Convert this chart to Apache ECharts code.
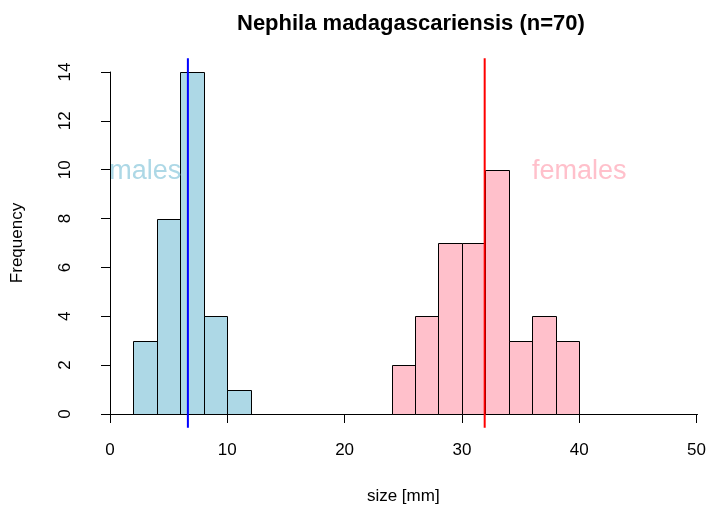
<!DOCTYPE html>
<html>
<head>
    <meta charset="UTF-8">
    <title>Nephila madagascariensis</title>
    <script src="https://cdn.jsdelivr.net/npm/echarts/dist/echarts.min.js"></script>
    <style>
        body { margin: 0; background: #fff; }
        #main { width: 709px; height: 510px; }
    </style>
</head>
<body>
    <div id="main"></div>
    <script>
        // bin edges (2 mm wide) and counts per bin
        var breaks = [0, 2, 4, 6, 8, 10, 12, 14, 16, 18, 20, 22, 24, 26, 28, 30, 32, 34, 36, 38, 40, 42, 44, 46, 48, 50];
        var males = [0, 3, 8, 14, 4, 1, 0, 0, 0, 0, 0, 0, 0, 0, 0, 0, 0, 0, 0, 0, 0, 0, 0, 0, 0];
        var females = [0, 0, 0, 0, 0, 0, 0, 0, 0, 0, 0, 0, 2, 4, 7, 7, 10, 3, 4, 3, 0, 0, 0, 0, 0];
        var means = [6.64, 31.94];          // male, female mean size
        var groupNames = ['males', 'females'];
        var labelX = [3, 40];
        var labelY = [10, 10];
        var xTicks = [0, 10, 20, 30, 40, 50];
        var yTicks = [0, 2, 4, 6, 8, 10, 12, 14];

        var fills = ['#ADD8E6', '#FFC0CB'];
        var lineCols = ['#0000FF', '#FF0000'];
        var font = '"Liberation Sans", Arial, sans-serif';

        function binData(counts) {
            return counts.map(function (c, i) { return [breaks[i], breaks[i + 1], c]; });
        }

        function histSeries(counts, fill) {
            return {
                type: 'custom',
                silent: true,
                data: binData(counts),
                encode: { x: [0, 1], y: 2 },
                renderItem: function (params, api) {
                    var p0 = api.coord([api.value(0), 0]);
                    var p1 = api.coord([api.value(1), api.value(2)]);
                    var x0 = Math.round(p0[0]) + 0.5, x1 = Math.round(p1[0]) + 0.5;
                    var yb = Math.round(p0[1]) + 0.5, yt = Math.round(p1[1]) + 0.5;
                    return {
                        type: 'rect',
                        shape: { x: x0, y: yt, width: x1 - x0, height: yb - yt },
                        style: { fill: fill, stroke: '#000', lineWidth: 1 }
                    };
                }
            };
        }

        // vertical mean lines span the whole plot region (R's 4% extension)
        var yLo = -0.04 * yTicks[yTicks.length - 1];
        var yHi = yTicks[yTicks.length - 1] * 1.04;
        function meanLine(v, col) {
            return {
                type: 'line',
                silent: true,
                clip: false,
                symbol: 'none',
                lineStyle: { color: col, width: 2 },
                data: [[v, yLo], [v, yHi]],
                z: 5
            };
        }

        var myChart = echarts.init(document.getElementById('main'));
        var option = {
            animation: false,
            backgroundColor: '#fff',
            textStyle: { fontFamily: font },
            title: {
                text: 'Nephila madagascariensis (n=70)',
                left: 232,
                top: 8,
                textStyle: { fontFamily: font, fontSize: 22, fontWeight: 'bold', color: '#000' }
            },
            grid: { left: 110, right: 12, top: 72, bottom: 96 },
            xAxis: {
                type: 'value',
                min: xTicks[0],
                max: xTicks[xTicks.length - 1],
                interval: 10,
                offset: 14,
                name: 'size [mm]',
                nameLocation: 'middle',
                nameGap: 60,
                nameTextStyle: { fontFamily: font, fontSize: 17, color: '#000' },
                axisLine: { lineStyle: { color: '#000', width: 1 } },
                axisTick: { length: 9, lineStyle: { color: '#000' } },
                axisLabel: { fontFamily: font, fontSize: 17, color: '#000', margin: 14 },
                splitLine: { show: false }
            },
            yAxis: {
                type: 'value',
                min: yTicks[0],
                max: yTicks[yTicks.length - 1],
                interval: 2,
                offset: 22,
                name: 'Frequency',
                nameLocation: 'middle',
                nameGap: 62,
                nameRotate: 90,
                nameTextStyle: { fontFamily: font, fontSize: 17, color: '#000' },
                axisLine: { show: true, lineStyle: { color: '#000', width: 1 } },
                axisTick: { show: true, length: 9, lineStyle: { color: '#000' } },
                axisLabel: { fontFamily: font, fontSize: 17, color: '#000', rotate: 90, margin: 14 },
                splitLine: { show: false }
            },
            series: [
                histSeries(males, fills[0]),
                histSeries(females, fills[1]),
                meanLine(means[0], lineCols[0]),
                meanLine(means[1], lineCols[1]),
                {
                    type: 'custom',
                    silent: true,
                    data: groupNames.map(function (n, i) { return [labelX[i], labelY[i], n]; }),
                    renderItem: function (params, api) {
                        var p = api.coord([api.value(0), api.value(1)]);
                        return {
                            type: 'text',
                            x: p[0], y: p[1] + 2,
                            style: {
                                text: groupNames[params.dataIndex],
                                fill: fills[params.dataIndex],
                                font: '27px ' + font,
                                align: 'center',
                                verticalAlign: 'middle'
                            }
                        };
                    },
                    z: 4
                }
            ]
        };
        myChart.setOption(option);
    </script>
</body>
</html>
